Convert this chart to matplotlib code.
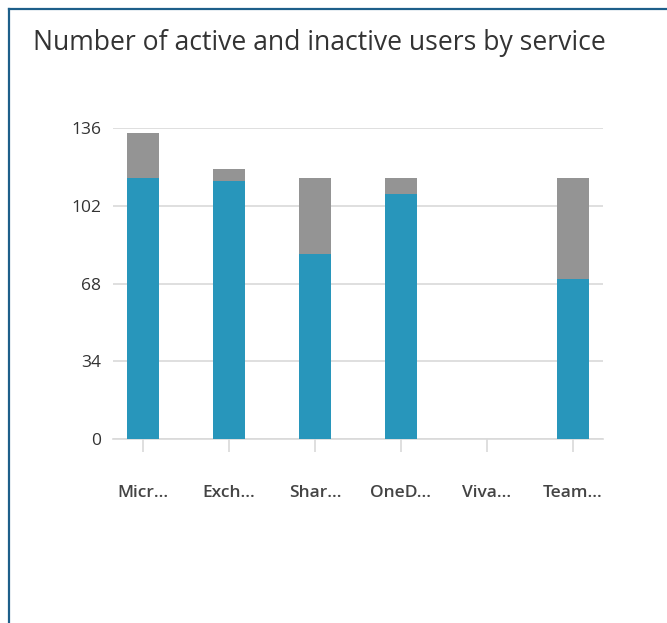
import matplotlib
matplotlib.use("Agg")
import matplotlib.pyplot as plt
from matplotlib.lines import Line2D

services = ["Micr...", "Exch...", "Shar...", "OneD...", "Viva...", "Team..."]
active = [114, 113, 81, 107, 0, 70]
inactive = [20, 5, 33, 7, 0, 44]
yticks = [0, 34, 68, 102, 136]

W, H = 667, 623
fig = plt.figure(figsize=(W / 100, H / 100), dpi=100)
fig.patch.set_facecolor("white")

# card border (left and top edges)
fig.add_artist(Line2D([9 / W, 9 / W], [0, 1 - 9 / H], transform=fig.transFigure,
                      color="#1d5f8a", lw=1.6))
fig.add_artist(Line2D([9 / W, 1], [1 - 9 / H, 1 - 9 / H], transform=fig.transFigure,
                      color="#1d5f8a", lw=1.6))

fig.text(33 / W, 1 - 43 / H, "Number of active and inactive users by service",
         fontsize=19.1, color="#333333", family="Open Sans", va="center", ha="left")

left, right, top, bottom = 113, 603, 128, 439
ax = fig.add_axes([left / W, 1 - bottom / H, (right - left) / W, (bottom - top) / H])
x = range(len(services))
ax.bar(x, active, width=0.38, color="#2896bb", zorder=3)
ax.bar(x, inactive, width=0.38, bottom=active, color="#949494", zorder=3)

ax.set_xlim(-0.35, len(services) - 0.65)
ax.set_ylim(0, 136)
ax.set_yticks(yticks)
ax.set_yticklabels([str(v) for v in yticks], fontsize=12.5, color="#333333",
                   family="Open Sans")
ax.grid(axis="y", color="#d9d9d9", lw=1.2, zorder=0)
for s in ["top", "right", "left"]:
    ax.spines[s].set_visible(False)
ax.spines["bottom"].set_color("#d9d9d9")
ax.spines["bottom"].set_linewidth(1.2)
ax.tick_params(axis="y", length=0, pad=8.5)
ax.tick_params(axis="x", length=9, color="#d9d9d9", width=1.2, pad=24)
ax.set_xticks(list(x))
ax.set_xticklabels(services, fontsize=12.5, color="#444444", family="Open Sans",
                   fontweight="semibold")

fig.savefig("out.png", dpi=100, facecolor="white")
